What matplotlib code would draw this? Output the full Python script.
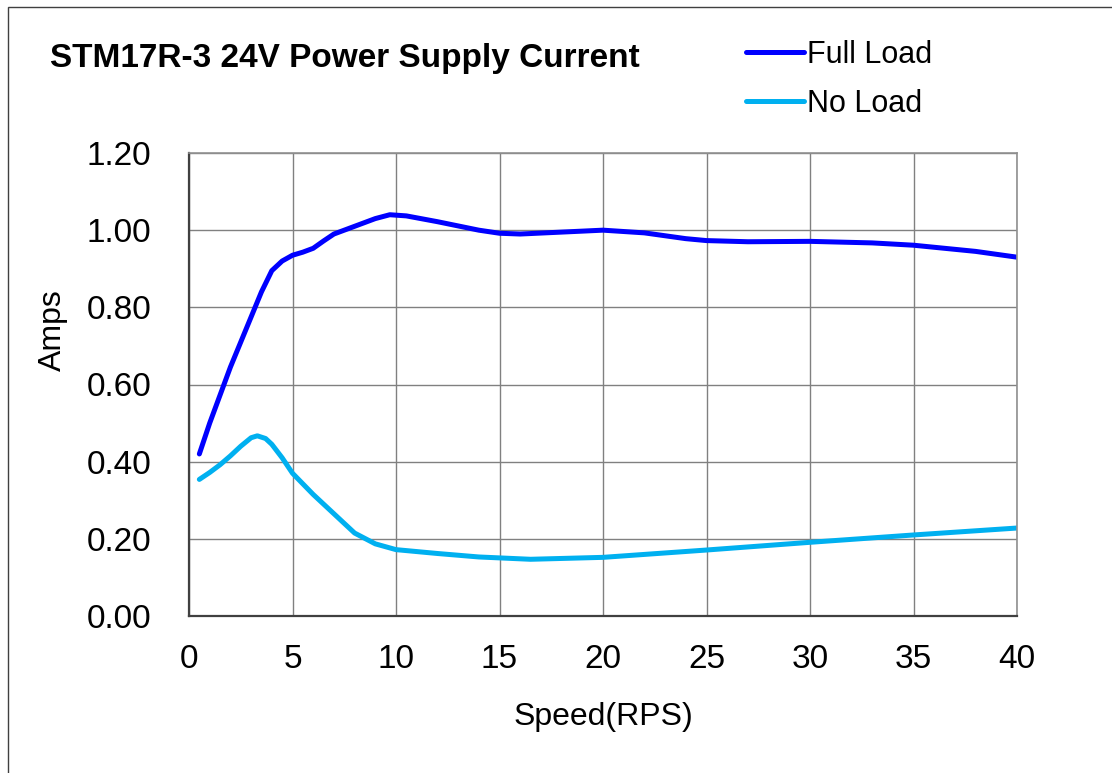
import matplotlib.pyplot as plt
from matplotlib.patches import Rectangle

plt.rcParams['font.family'] = ['Liberation Sans', 'DejaVu Sans']

# values
full_x = [0.5, 1, 2, 3, 3.5, 4, 4.5, 5, 5.5, 6, 6.5, 7, 8, 9, 9.7, 10.5, 12, 14, 15, 16, 18, 20, 22, 24, 25, 27, 30, 33, 35, 38, 40]
full_y = [0.42, 0.50, 0.645, 0.775, 0.84, 0.895, 0.92, 0.935, 0.943, 0.953, 0.972, 0.99, 1.01, 1.03, 1.04, 1.037, 1.022, 1.0, 0.992, 0.99, 0.995, 1.0, 0.993, 0.978, 0.973, 0.97, 0.971, 0.967, 0.961, 0.945, 0.93]

noload_x = [0.5, 1, 1.5, 2, 2.5, 3, 3.3, 3.7, 4, 4.5, 5, 6, 7, 8, 9, 10, 12, 14, 16.5, 20, 25, 30, 35, 40]
noload_y = [0.354, 0.372, 0.392, 0.415, 0.44, 0.462, 0.467, 0.46, 0.445, 0.41, 0.37, 0.315, 0.265, 0.215, 0.187, 0.172, 0.162, 0.153, 0.147, 0.152, 0.171, 0.191, 0.21, 0.228]

yticks = [0, 0.2, 0.4, 0.6, 0.8, 1.0, 1.2]

fig = plt.figure(figsize=(11.12, 7.73), dpi=100)
fig.patches.append(Rectangle((8 / 1112, -0.1), 1.2, 1.1 - 7 / 773, transform=fig.transFigure,
                             fill=False, edgecolor='#404040', linewidth=1))

ax = fig.add_axes([189 / 1112, 1 - 616 / 773, 828 / 1112, 463 / 773])
ax.plot(full_x, full_y, color='#0000FF', linewidth=3.6, label='Full Load', solid_capstyle='round')
ax.plot(noload_x, noload_y, color='#00B0F0', linewidth=3.6, label='No Load', solid_capstyle='round')

ax.set_xlim(0, 40)
ax.set_ylim(0, 1.2)
ax.set_xticks(range(0, 41, 5))
ax.set_yticks(yticks)
ax.set_yticklabels(['%.2f' % v for v in yticks])
ax.tick_params(labelsize=24, length=0)
ax.tick_params(axis='y', pad=27)
ax.tick_params(axis='x', pad=20)
ax.grid(True, color='#808080', linewidth=1)
ax.set_axisbelow(True)
for s in ['left', 'bottom']:
    ax.spines[s].set_color('#404040')
    ax.spines[s].set_linewidth(1.6)
for s in ['top', 'right']:
    ax.spines[s].set_color('#909090')
    ax.spines[s].set_linewidth(1.2)

ax.set_xlabel('Speed(RPS)', fontsize=23)
ax.xaxis.set_label_coords(0.5, (616 - 702) / 463)
ax.set_ylabel('Amps', fontsize=23)
ax.yaxis.set_label_coords((68 - 189) / 828, (616 - 330) / 463)

fig.text(50 / 1112, 1 - 58 / 773, 'STM17R-3 24V Power Supply Current', fontsize=24,
         fontweight='bold', va='center', ha='left')

fig.legend(loc='upper left', bbox_to_anchor=(746 / 1112, 1 - 40 / 773), frameon=False,
           fontsize=22, handlelength=1.9, handletextpad=0.1, labelspacing=0.61, borderpad=0,
           borderaxespad=0)

fig.savefig('out.png', dpi=100)
